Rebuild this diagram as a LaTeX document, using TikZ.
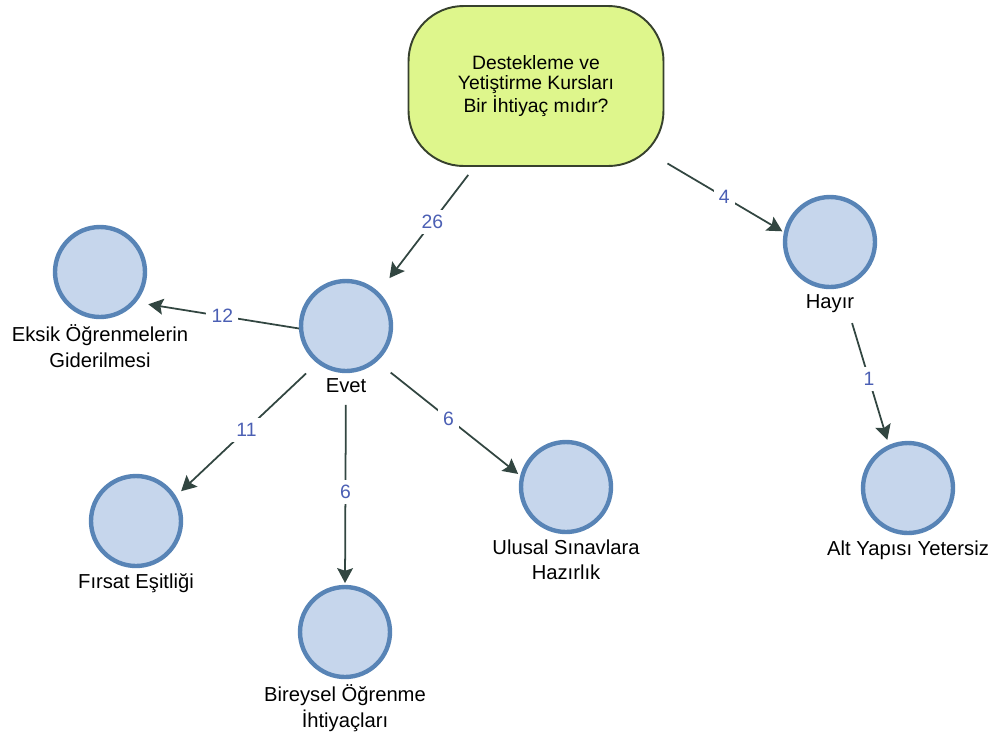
\documentclass[tikz,border=0pt]{standalone}
\usepackage{fontspec}
\setmainfont{Liberation Sans}
\usepackage{tikz}
\usetikzlibrary{arrows.meta, positioning}
\tikzset{>={Stealth[length=8.5pt,width=9pt,inset=1.5pt]}}
\definecolor{kodfill}{RGB}{198,214,236}
\definecolor{kodline}{RGB}{88,132,182}
\definecolor{sorufill}{RGB}{222,246,140}
\definecolor{sorukenar}{RGB}{55,65,45}
\definecolor{bagrenk}{RGB}{50,70,65}
\definecolor{sayirenk}{RGB}{75,95,180}
\tikzset{
  kod/.style={circle, draw=kodline, fill=kodfill, line width=2.5pt, minimum size=1.8cm, inner sep=0pt},
  ad/.style={align=center, inner sep=1pt, font=\fontsize{11.5}{14.5}\selectfont},
  soru/.style={draw=sorukenar, fill=sorufill, line width=1.1pt, rounded corners=1.1cm, minimum width=5.1cm, minimum height=3.2cm, align=center, font=\fontsize{11}{11.5}\selectfont},
  bag/.style={->, draw=bagrenk, line width=1pt},
  sayi/.style={fill=white, inner sep=3pt, text=sayirenk, font=\fontsize{11}{13}\selectfont},
}

\begin{document}
\begin{tikzpicture}[x=0.02cm, y=-0.02cm]
	\useasboundingbox (0,0) rectangle (993,738);
	% soru ve kodlar
	\node[soru] (soru) at (536,86) {Destekleme ve\\Yetiştirme Kursları\\Bir İhtiyaç mıdır?};
	\node[kod] (evet) at (346,326) {};
	\node[ad, below=2pt of evet] (evet-ad) {Evet};
	\node[kod] (hayir) at (830,242) {};
	\node[ad, below=2pt of hayir] (hayir-ad) {Hayır};
	\node[kod] (eksik) at (100,272) {};
	\node[ad, below=2pt of eksik] (eksik-ad) {Eksik Öğrenmelerin\\Giderilmesi};
	\node[kod] (firsat) at (136,521) {};
	\node[ad, below=2pt of firsat] (firsat-ad) {Fırsat Eşitliği};
	\node[kod] (bireysel) at (345,632) {};
	\node[ad, below=2pt of bireysel] (bireysel-ad) {Bireysel Öğrenme\\İhtiyaçları};
	\node[kod] (ulusal) at (566,487) {};
	\node[ad, below=2pt of ulusal] (ulusal-ad) {Ulusal Sınavlara\\Hazırlık};
	\node[kod] (alt) at (908,488) {};
	\node[ad, below=2pt of alt] (alt-ad) {Alt Yapısı Yetersiz};
	% baglar
	\draw[bag, shorten <=5.7pt, shorten >=10pt] (soru) -- node[sayi, pos=0.44]{26} (evet.46);
	\draw[bag, shorten <=2pt, shorten >=1pt] (soru) -- node[sayi]{4} (hayir.168);
	\draw[bag, shorten >=7pt] (evet.183) -- node[sayi, pos=0.47]{12} (eksik.-40);
	\draw[bag, shorten <=8.5pt, shorten >=4pt] (evet.-128) -- node[sayi]{11} (firsat.32);
	\draw[bag, shorten <=18pt, shorten >=1pt] (evet.-90) -- node[sayi, pos=0.56]{6} (bireysel.90);
	\draw[bag, shorten <=10pt, shorten >=1.5pt] (evet.-49) -- node[sayi]{6} (ulusal.166);
	\draw[bag, shorten <=21pt, shorten >=3pt] (hayir.-76) -- node[sayi, pos=0.58]{1} (alt.114);
\end{tikzpicture}
\end{document}
